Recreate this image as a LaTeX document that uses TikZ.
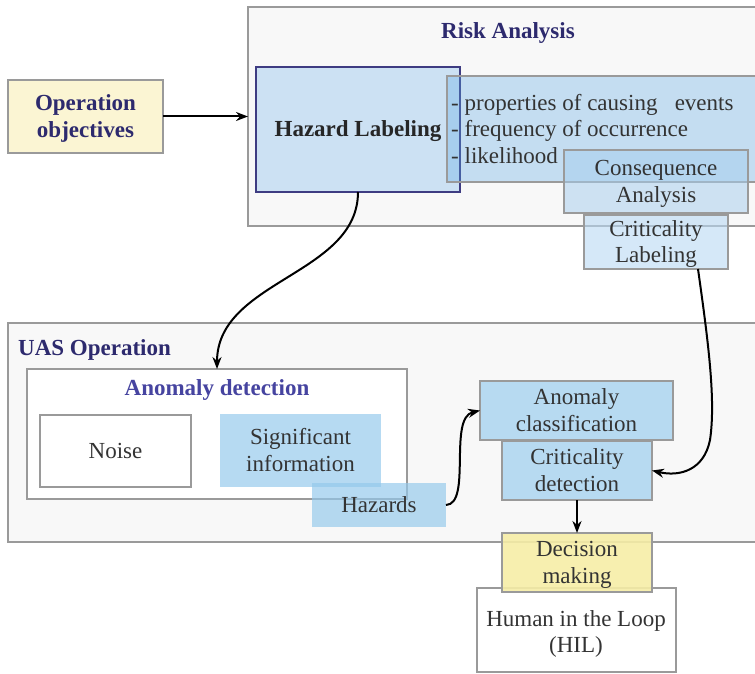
\documentclass[tikz,border=0pt]{standalone}
\usepackage{fontspec}
\setmainfont{Liberation Serif}
\usetikzlibrary{arrows.meta}
\definecolor{navy}{HTML}{2D2A6E}
\definecolor{midnavy}{HTML}{4644A0}
\definecolor{txt}{HTML}{333333}
\definecolor{edgegray}{HTML}{9A9A9A}
\definecolor{panel}{HTML}{F8F8F8}
\definecolor{paleyellow}{HTML}{FBF5D3}
\definecolor{decyellow}{HTML}{F6EDA6}
\definecolor{hazblue}{HTML}{CCE1F3}
\definecolor{hazedge}{HTML}{3E3C82}
\definecolor{listblue}{HTML}{59A7E5}
\definecolor{conblue}{HTML}{A7CEEE}
\definecolor{critblue}{HTML}{B9D9F3}
\definecolor{sigblue}{HTML}{94C9EC}
\definecolor{midblue}{HTML}{B7DAF1}
\tikzset{
  % struts that keep one, two or three lines optically centred in a box
  lines/.style={execute at begin node={\rule{0pt}{#1}},
                execute at end node={\rule[-4.8pt]{0pt}{0pt}}},
  vc1/.style={lines=20pt},
  vc2/.style={lines=46.5pt},
  vc3/.style={lines=73pt},
  box/.style={draw=edgegray, line width=1.2pt, inner sep=0pt, outer sep=0pt,
    anchor=north west, align=center, text=txt,
    font=\fontsize{23}{26.5}\selectfont},
  plain/.style={box, draw=none},
  label text/.style={inner sep=0pt, text=txt, font=\fontsize{23}{26.5}\selectfont},
  heading/.style={inner sep=0pt, text=navy, vc1, font=\fontsize{23}{26.5}\selectfont\bfseries},
  flow/.style={line width=2pt, -{Stealth[length=12pt,width=9pt]}}
}
\begin{document}
\begin{tikzpicture}[x=1pt,y=-1pt]
\useasboundingbox (0,0) rectangle (755,674);
\clip (0,0) rectangle (755,674);

% operation objectives
\node[box, fill=paleyellow, minimum width=155pt, minimum height=73pt, lines=47pt,
  text=navy, font=\fontsize{23}{27}\selectfont\bfseries] (opobj) at (8,80)
  {Operation\\objectives};

% risk analysis panel
\node[box, fill=panel, minimum width=520pt, minimum height=219pt] (risk) at (248,7) {};
\node[heading] (risktitle) at (508,31) {Risk Analysis};
\node[box, vc1, draw=hazedge, fill=hazblue, minimum width=204pt, minimum height=125pt,
  text=black!85, font=\fontsize{23}{26.5}\selectfont\bfseries] (hazlab) at (256,67) {Hazard Labeling};
\node[box, fill=listblue, fill opacity=0.32, minimum width=320pt, minimum height=106pt] (listbox) at (447,76) {};
\node[label text, vc3, anchor=west, align=left] (listtext) at (451,129)
  {- properties of causing\ \ \ events\\- frequency of occurrence\\- likelihood};
\node[box, vc2, fill=conblue, fill opacity=0.53, text opacity=1, minimum width=184pt, minimum height=63pt] (conseq) at (564,150)
  {Consequence\\Analysis};
\node[box, vc2, fill=critblue, fill opacity=0.6, text opacity=1, minimum width=144pt, minimum height=54pt] (critlab) at (584,215)
  {Criticality\\Labeling};

% UAS operation panel
\node[box, fill=panel, minimum width=760pt, minimum height=219pt] (uas) at (8,323) {};
\node[heading, anchor=west] (uastitle) at (18,348) {UAS Operation};
\node[box, fill=white, minimum width=380pt, minimum height=130pt] (anomdet) at (27,369) {};
\node[heading, text=midnavy] (anomtitle) at (217,388) {Anomaly detection};
\node[box, vc1, fill=white, minimum width=151pt, minimum height=72pt] (noise) at (40,415) {Noise};
\node[plain, vc2, fill=sigblue, fill opacity=0.68, text opacity=1, minimum width=161pt, minimum height=73pt] (siginfo) at (220,414)
  {Significant\\information};
\node[plain, vc1, fill=sigblue, fill opacity=0.68, text opacity=1, minimum width=134pt, minimum height=44pt] (hazards) at (312,483) {Hazards};
\node[box, vc2, fill=midblue, minimum width=193pt, minimum height=59pt] (anomclass) at (480,381)
  {Anomaly\\classification};
\node[box, vc2, fill=midblue, minimum width=150pt, minimum height=59pt] (critdet) at (502,441)
  {Criticality\\detection};

% decision and human in the loop
\node[box, fill=white, minimum width=199pt, minimum height=84pt] (hil) at (477,588) {};
\node[label text, vc2, align=center] (hiltext) at (576,632)
  {Human in the Loop\\(HIL)};
\node[box, vc2, fill=decyellow, fill opacity=0.9, text opacity=1, minimum width=150pt, minimum height=59pt] (decision) at (502,533)
  {Decision\\making};

% connectors
\draw[flow] (opobj.east) -- (opobj.east -| risk.west);
\draw[flow] (hazlab.south) .. controls (358,275) and (217,280) .. (anomdet.north);
\draw[flow] ([xshift=-30pt]critlab.south east) .. controls (708,340) and (716,400) .. (710,440)
  .. controls (704,470) and (680,477) .. (critdet.east);
\draw[flow] (hazards.east) .. controls (472,504) and (448,418) .. (anomclass.west);
\draw[flow] (critdet.south) -- (decision.north);
\end{tikzpicture}
\end{document}
